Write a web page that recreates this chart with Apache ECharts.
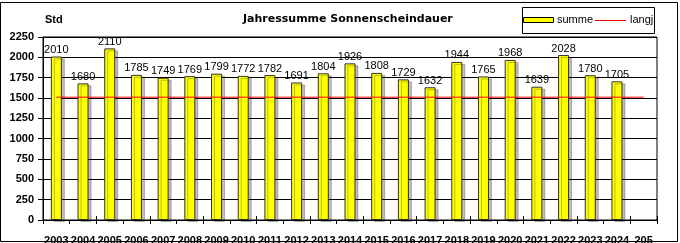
<!DOCTYPE html>
<html><head><meta charset="utf-8">
<script src="https://cdn.jsdelivr.net/npm/echarts@6/dist/echarts.min.js"></script>
<style>html,body{margin:0;padding:0;background:#fff}#c{width:680px;height:243px}</style>
</head><body><div id="c"></div>
<script>
const categories = ['2003','2004','2005','2006','2007','2008','2009','2010','2011','2012','2013','2014','2015','2016','2017','2018','2019','2020','2021','2022','2023','2024','205'];
const summe = [2010,1680,2110,1785,1749,1769,1799,1772,1782,1691,1804,1926,1808,1729,1632,1944,1765,1968,1639,2028,1780,1705,null];
const langj = [1510,1510,1510,1510,1510,1510,1510,1510,1510,1510,1510,1510,1510,1510,1510,1510,1510,1510,1510,1510,1510,1510,1510];
const yTicks = {min:0, max:2250, interval:250};
const titleText = 'Jahressumme Sonnenscheindauer';
const unitText = 'Std';
const legendNames = ['summe','langj'];

const chart = echarts.init(document.getElementById('c'), null, {renderer:'canvas'});
const font = 'Arial, "Liberation Sans", sans-serif';
chart.setOption({
  animation:false,
  backgroundColor:'#fff',
  grid:{left:43, right:23, top:37, bottom:23, containLabel:false, outerBoundsMode:'none', show:true, borderColor:'#000', borderWidth:1, backgroundColor:'transparent'},
  legend:{show:false},
  graphic:[
    {type:'rect', shape:{x:0.5, y:2.5, width:677, height:239}, style:{fill:'none', stroke:'#000', lineWidth:1}, z:-1},
    {type:'text', left:45, top:14, style:{text:unitText, font:'bold 11px Arial, "Liberation Sans", sans-serif', fill:'#000'}},
    {type:'text', left:243, top:14, style:{text:titleText, font:'bold 11px "Comic Sans MS", "DejaVu Sans", sans-serif', fill:'#000'}},
    {type:'rect', shape:{x:522.5, y:7.5, width:132, height:26}, style:{fill:'#fff', stroke:'#000', lineWidth:1}, z:10},
    {type:'rect', shape:{x:523.5, y:17.5, width:30, height:5}, style:{fill:'#ffff00', stroke:'#000', lineWidth:1}, z:11},
    {type:'text', left:557, top:14, style:{text:legendNames[0], font:'11px Arial, "Liberation Sans", sans-serif', fill:'#000'}, z:11},
    {type:'line', shape:{x1:595, y1:20.5, x2:626, y2:20.5}, style:{stroke:'#ff0000', lineWidth:1}, z:11},
    {type:'text', left:630, top:14, style:{text:legendNames[1], font:'11px Arial, "Liberation Sans", sans-serif', fill:'#000'}, z:11}
  ],
  xAxis:[{
    type:'category', data:categories, boundaryGap:true, position:'bottom',
    axisLine:{lineStyle:{color:'#000', width:1}},
    axisTick:{show:true, length:4, lineStyle:{color:'#000'}},
    axisLabel:{interval:0, margin:15, color:'#000', fontFamily:font, fontSize:11, fontWeight:'bold', hideOverlap:false},
    splitLine:{show:false}
  },{
    type:'category', data:categories, boundaryGap:true, position:'bottom', offset:0,
    axisLine:{show:false},
    axisTick:{show:true, inside:true, length:4, lineStyle:{color:'#000'}},
    axisLabel:{show:false}, splitLine:{show:false}
  }],
  yAxis:{
    type:'value', min:yTicks.min, max:yTicks.max, interval:yTicks.interval,
    axisLine:{show:true, lineStyle:{color:'#000'}},
    axisTick:{show:true, length:5, lineStyle:{color:'#000'}},
    axisLabel:{margin:9, color:'#000', fontFamily:font, fontSize:11, fontWeight:'bold', formatter:function(v){return String(v);}},
    splitLine:{show:true, lineStyle:{color:'#000', width:1}}
  },
  series:[{
    name:'summe', type:'bar', data:summe, barWidth:11, xAxisIndex:0,
    itemStyle:{color:'#ffff00', borderColor:'#333', borderWidth:1, shadowColor:'rgba(0,0,0,0.25)', shadowOffsetX:3, shadowOffsetY:2, shadowBlur:0},
    label:{show:true, position:'top', distance:1, color:'#000', fontFamily:font, fontSize:11},
    z:3
  },{
    name:'langj', type:'line', data:langj, xAxisIndex:0, symbol:'none', showSymbol:false,
    lineStyle:{color:'#ff0000', width:1}, itemStyle:{color:'#ff0000'}, z:4
  }]
});
</script></body></html>
